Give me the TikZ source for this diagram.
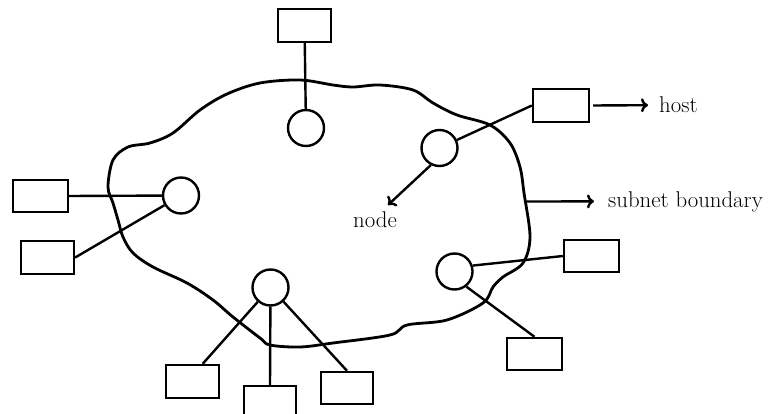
\documentclass[tikz,border=0pt]{standalone}
\usetikzlibrary{arrows.meta}
\begin{document}
\begin{tikzpicture}[x=1pt,y=-1pt,
  line width=2.4pt,
  hostbox/.style={draw,rectangle,minimum width=53pt,minimum height=33pt,inner sep=0pt},
  nodecirc/.style={draw,circle,minimum size=36pt,inner sep=0pt},
  lbl/.style={inner sep=0pt,font=\fontsize{22.8}{27}\selectfont},
  tip/.style={-{To[length=7pt,width=14pt]}}]
\useasboundingbox (0,0) rectangle (778,414);

% subnet boundary
\draw[line width=2.8pt] plot[smooth cycle,tension=0.55] coordinates {
  (108,187) (113,160) (128,147) (150,143) (173,133) (200,110) (227,94)
  (260,83) (300,80) (333,85) (353,87) (380,85) (413,90) (433,103)
  (457,115) (490,125) (510,143) (520,167) (524,193) (530,237)
  (523,263) (503,277) (493,287) (483,303) (447,320) (407,325)
  (390,335) (333,343) (300,347) (270,345) (260,338) (233,317)
  (213,300) (187,283) (153,267) (133,253) (123,237) (118,220) (113,203)};

% nodes of the subnet
\node[nodecirc] (n1) at (306,128) {};
\node[nodecirc] (n2) at (181,195.5) {};
\node[nodecirc] (n3) at (439.5,148) {};
\node[nodecirc] (n4) at (270.5,287.5) {};
\node[nodecirc] (n5) at (454.5,271.5) {};

% hosts
\node[hostbox] (h1) at (304.5,25.5) {};
\node[hostbox,minimum width=55pt,minimum height=32pt] (h2) at (40.5,196) {};
\node[hostbox] (h3) at (47.5,257.5) {};
\node[hostbox,minimum width=56pt] (h4) at (561,105.5) {};
\node[hostbox,minimum width=55pt,minimum height=32pt] (h5) at (591.5,256) {};
\node[hostbox,minimum width=55pt,minimum height=32pt] (h6) at (534.5,354) {};
\node[hostbox] (h7) at (192.5,381.5) {};
\node[hostbox,minimum width=52pt] (h8) at (270,402.5) {};
\node[hostbox,minimum width=52pt,minimum height=32pt] (h9) at (347,388) {};

% host to node links
\draw (h1) -- (n1);
\draw (h2.east) -- (n2);
\draw (h3.east) -- (n2);
\draw (n3) -- (h4.west);
\draw (n4) -- (h7.60);
\draw (n4) -- (h8.north);
\draw (n4) -- (h9.north);
\draw (n5.18) -- (h5.west);
\draw (n5.-52) -- (h6.north);

% labels
\node[lbl,anchor=base west] (lhost) at (658,113) {host};
\node[lbl,anchor=base west] (lsub) at (607,207) {subnet boundary};
\node[lbl,anchor=base west] (lnode) at (352,227) {node};
\coordinate (ntip) at (388,205);
\coordinate (bpt) at (526,201.5);

\draw[tip] ([xshift=3pt]h4.east) -- ([xshift=-10pt]lhost.west);
\draw[tip] (bpt) -- ([xshift=-13pt]lsub.west);
\draw[tip] (n3.-117) -- (ntip);
\end{tikzpicture}
\end{document}
